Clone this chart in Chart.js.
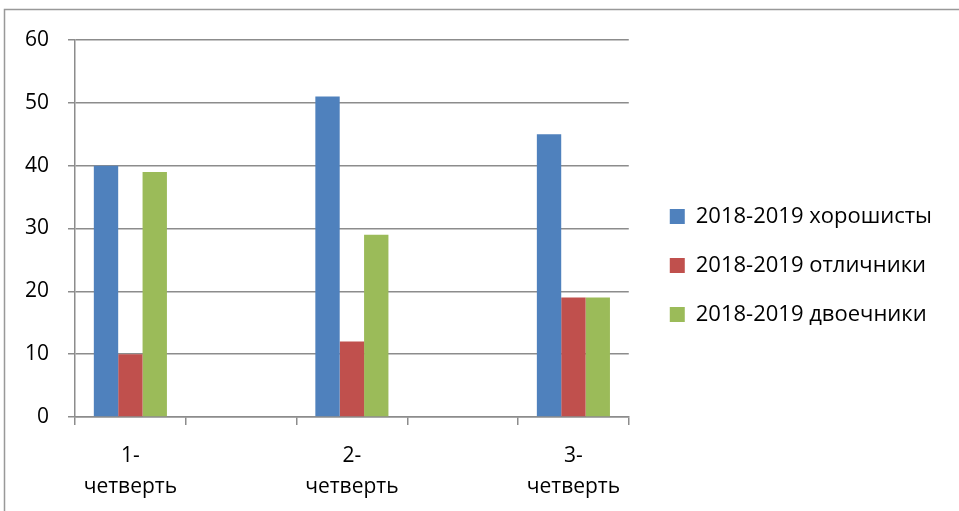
<!DOCTYPE html>
<html>
<head>
<meta charset="utf-8">
<script src="https://cdn.jsdelivr.net/npm/chart.js@4"></script>
<style>
  html, body { margin: 0; padding: 0; background: #fff; }
  #wrap { position: relative; width: 959px; height: 511px; }
</style>
</head>
<body>
<div id="wrap"><canvas id="Chart" width="959" height="511"></canvas></div>
<script>
document.addEventListener('DOMContentLoaded', function () {

  const ctx = document.getElementById('Chart');

  // blank categories sit between the quarters, like in the original sheet
  const quarters = [['1-', 'четверть'], '', ['2-', 'четверть'], '', ['3-', 'четверть']];
  const seriesNames = ['2018-2019 хорошисты', '2018-2019 отличники', '2018-2019 двоечники'];
  const goodValues = [40, null, 51, null, 45];
  const excellentValues = [10, null, 12, null, 19];
  const poorValues = [39, null, 29, null, 19];
  const yTicks = [0, 10, 20, 30, 40, 50, 60];

  const font = { family: '"Open Sans", sans-serif', size: 21 };
  const legendFont = { family: '"Open Sans", sans-serif', size: 22 };
  const gray = '#8c8c8c';

  // thin grey frame, as in the pasted picture
  const frame = {
    id: 'frame',
    beforeDraw(chart) {
      const c = chart.ctx;
      c.save();
      c.strokeStyle = '#999';
      c.lineWidth = 1.5;
      c.beginPath();
      c.moveTo(4.5, 520);
      c.lineTo(4.5, 9.5);
      c.lineTo(970, 9.5);
      c.stroke();
      c.restore();
    }
  };

  const data = {
    labels: quarters,
    datasets: [{
      label: seriesNames[0],
      backgroundColor: '#4F81BD',
      data: goodValues
    }, {
      label: seriesNames[1],
      backgroundColor: '#C0504D',
      data: excellentValues
    }, {
      label: seriesNames[2],
      backgroundColor: '#9BBB59',
      data: poorValues
    }]
  };

  // invisible spacer axis
  function spacer(position, size) {
    return {
      position: position,
      display: true,
      grid: { display: false },
      border: { display: false },
      ticks: { display: false },
      afterFit(scale) {
        if (position === 'top') scale.height = size; else scale.width = size;
      }
    };
  }

  new Chart(ctx, {
    type: 'bar',
    data: data,
    plugins: [frame],
    options: {
      responsive: false,
      animation: false,
      layout: { padding: { left: 0, top: 20, right: 17, bottom: 0 } },
      datasets: {
        bar: { categoryPercentage: 0.66, barPercentage: 1, borderWidth: 0 }
      },
      plugins: {
        tooltip: { enabled: false },
        legend: {
          position: 'right',
          maxWidth: 400,
          labels: {
            font: legendFont,
            color: '#000',
            boxWidth: 15,
            boxHeight: 15,
            padding: 27
          }
        }
      },
      scales: {
        x: {
          offset: true,
          grid: { offset: true, drawOnChartArea: false, drawTicks: true, tickLength: 8, color: gray, lineWidth: 1.5 },
          border: { color: gray, width: 1.5 },
          ticks: { font: Object.assign({ lineHeight: 1.5 }, font), color: '#000', padding: 15, maxRotation: 0, autoSkip: false },
          afterFit(scale) { scale.height = 94; }
        },
        y: {
          min: 0,
          max: 60,
          afterBuildTicks(scale) { scale.ticks = yTicks.map(v => ({ value: v })); },
          grid: { color: gray, lineWidth: 1.5, tickLength: 7 },
          border: { color: gray, width: 1.5 },
          ticks: { font: font, color: '#000', padding: 19 },
          afterFit(scale) { scale.width = 75; }
        },
        gapTop: spacer('top', 20),
        gapRight: spacer('right', 14)
      }
    }
  });
});
</script>
</body>
</html>
